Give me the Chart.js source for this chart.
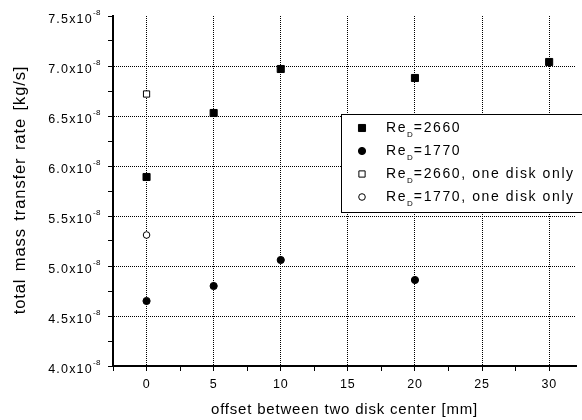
<!DOCTYPE html>
<html>
<head>
<meta charset="utf-8">
<script src="https://cdn.jsdelivr.net/npm/chart.js@4.4.1/dist/chart.umd.min.js"></script>
<style>
  html, body { margin: 0; padding: 0; background: #fff; }
  #massChart { display: block; }
</style>
</head>
<body>
<canvas id="massChart" width="582" height="420"></canvas>
<script>
// values in units of 1e-8 kg/s
const offsets2660 = [0, 5, 10, 20, 30];
const rate2660 = [5.89, 6.53, 6.97, 6.88, 7.04];
const offsets1770 = [0, 5, 10, 20];
const rate1770 = [4.65, 4.80, 5.06, 4.86];
const single2660 = [6.72];
const single1770 = [5.31];
const xTicks = [0, 5, 10, 15, 20, 25, 30];
const yTicks = [4.0, 4.5, 5.0, 5.5, 6.0, 6.5, 7.0, 7.5];
const seriesNames = [
  ["2660", ""],
  ["1770", ""],
  ["2660", ", one disk only"],
  ["1770", ", one disk only"]
];

const FONT = "'Liberation Sans', Arial, sans-serif";

function pts(xs, ys) {
  return xs.map((x, i) => ({ x: x, y: ys[i] }));
}

function isXMajor(v) {
  return xTicks.some(t => Math.abs(t - v) < 1e-6);
}

function isYGrid(v) {
  return yTicks.some(t => Math.abs(t - v) < 1e-6) && v > 4.01 && v < 7.49;
}

// spacing like the original
const spacingPlugin = {
  id: "spacing",
  beforeDraw(chart) {
    chart.ctx.letterSpacing = "0.8px";
  }
};

// y tick labels, y title and the legend box
const extrasPlugin = {
  id: "extras",
  afterDraw(chart) {
    const ctx = chart.ctx;
    const y = chart.scales.y;
    ctx.save();
    ctx.fillStyle = "#000";

    // y tick labels with exponent
    yTicks.forEach(v => {
      const py = y.getPixelForValue(v);
      ctx.font = "8px " + FONT;
      ctx.letterSpacing = "0.5px";
      ctx.textAlign = "right";
      ctx.textBaseline = "middle";
      const sup = "-8";
      ctx.fillText(sup, 101, py - 3);
      const supW = ctx.measureText(sup).width;
      ctx.font = "12.5px " + FONT;
      ctx.letterSpacing = "1.2px";
      ctx.fillText(v.toFixed(1) + "x10", 101 - supW, py + 3.5);
    });

    // y title
    ctx.save();
    ctx.translate(20, 190);
    ctx.rotate(-Math.PI / 2);
    ctx.font = "16.5px " + FONT;
    ctx.letterSpacing = "0.9px";
    ctx.wordSpacing = "2px";
    ctx.textAlign = "center";
    ctx.textBaseline = "middle";
    ctx.fillText("total mass transfer rate [kg/s]", 0, 0);
    ctx.restore();

    // legend
    const bx = 341, by = 114, bh = 98;
    ctx.fillStyle = "#fff";
    ctx.fillRect(bx, by, 260, bh);
    ctx.strokeStyle = "#000";
    ctx.lineWidth = 1;
    ctx.strokeRect(bx + 0.5, by + 0.5, 260, bh);

    chart.data.datasets.forEach((ds, i) => {
      const ry = 128 + i * 23;
      ctx.lineWidth = 1;
      ctx.fillStyle = ds.backgroundColor;
      ctx.strokeStyle = ds.borderColor;
      Chart.helpers.drawPoint(ctx, {
        pointStyle: ds.pointStyle,
        radius: ds.pointRadius,
        borderWidth: 1
      }, 362, ry);

      ctx.fillStyle = "#000";
      ctx.textAlign = "left";
      ctx.textBaseline = "middle";
      ctx.font = "14px " + FONT;
      ctx.letterSpacing = "1.6px";
      let tx = 386;
      ctx.fillText("Re", tx, ry);
      tx += ctx.measureText("Re").width;
      ctx.font = "8px " + FONT;
      ctx.letterSpacing = "0px";
      ctx.fillText("D", tx, ry + 7);
      tx += ctx.measureText("D").width + 1;
      ctx.font = "14px " + FONT;
      ctx.letterSpacing = "1.6px";
      ctx.fillText("=" + seriesNames[i][0] + seriesNames[i][1], tx, ry);
    });
    ctx.restore();
  }
};

new Chart(document.getElementById("massChart"), {
  type: "scatter",
  data: {
    datasets: [
      {
        label: "ReD=2660",
        data: pts(offsets2660, rate2660),
        pointStyle: "rect",
        pointRadius: 5,
        backgroundColor: "#000",
        borderColor: "#000",
        borderWidth: 1
      },
      {
        label: "ReD=1770",
        data: pts(offsets1770, rate1770),
        pointStyle: "circle",
        pointRadius: 3.6,
        backgroundColor: "#000",
        borderColor: "#000",
        borderWidth: 1
      },
      {
        label: "ReD=2660, one disk only",
        data: pts([0], single2660),
        pointStyle: "rect",
        pointRadius: 4.4,
        backgroundColor: "#fff",
        borderColor: "#000",
        borderWidth: 1
      },
      {
        label: "ReD=1770, one disk only",
        data: pts([0], single1770),
        pointStyle: "circle",
        pointRadius: 3.3,
        backgroundColor: "#fff",
        borderColor: "#000",
        borderWidth: 1
      }
    ]
  },
  options: {
    responsive: false,
    animation: false,
    maintainAspectRatio: false,
    layout: { padding: { left: 113, top: 16, right: 0, bottom: 0 } },
    plugins: {
      legend: { display: false },
      tooltip: { enabled: false }
    },
    scales: {
      x: {
        type: "linear",
        min: -2.5,
        max: 32,
        afterFit(s) { s.height = 54; },
        ticks: {
          stepSize: 2.5,
          autoSkip: false,
          maxRotation: 0,
          padding: 6,
          color: "#000",
          font: { family: FONT, size: 12.5 },
          callback: v => (isXMajor(v) ? String(Math.round(v)) : "")
        },
        grid: {
          color: c => (c.tick && isXMajor(c.tick.value) ? "rgba(0,0,0,1)" : "rgba(0,0,0,0)"),
          tickColor: c => (c.tick && c.tick.value <= 30.01 ? "#000" : "rgba(0,0,0,0)"),
          lineWidth: 1,
          tickLength: 5,
          tickWidth: 1,
          drawOnChartArea: true
        },
        border: { color: "#000", width: 2, dash: [1, 1] },
        title: {
          display: true,
          text: "offset between two disk center [mm]",
          color: "#000",
          font: { family: FONT, size: 15 },
          padding: { top: 0, bottom: 1 }
        }
      },
      y: {
        type: "linear",
        min: 4.0,
        max: 7.5,
        afterFit(s) { s.width = 0; },
        ticks: {
          stepSize: 0.25,
          autoSkip: false,
          callback: () => ""
        },
        grid: {
          color: c => (c.tick && isYGrid(c.tick.value) ? "rgba(0,0,0,1)" : "rgba(0,0,0,0)"),
          tickColor: "#000",
          lineWidth: 1,
          tickLength: 5,
          tickWidth: 1,
          drawOnChartArea: true
        },
        border: { color: "#000", width: 2, dash: [1, 1] }
      }
    }
  },
  plugins: [spacingPlugin, extrasPlugin]
});
</script>
</body>
</html>
